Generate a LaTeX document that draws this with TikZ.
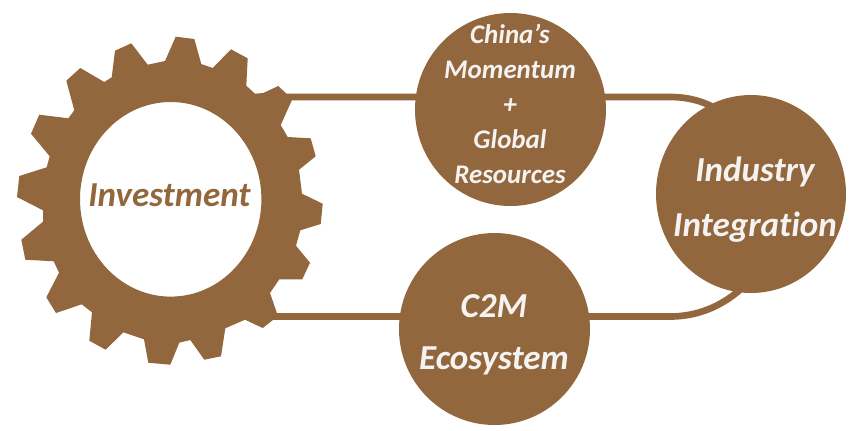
\documentclass[tikz,border=0pt]{standalone}
\usepackage{fontspec}
\usetikzlibrary{shapes.geometric}
\setmainfont[Ligatures=NoCommon]{Carlito}
\definecolor{brownc}{HTML}{92673E}
\definecolor{offw}{HTML}{F5F3F1}
\newcommand{\bigtxt}{\fontsize{26.3}{26.3}\selectfont\bfseries\itshape}
\newcommand{\smalltxt}{\fontsize{20.2}{20.2}\selectfont\bfseries\itshape}
\tikzset{
 x=0.75pt,y=-0.75pt,
 disc/.style={ellipse,fill=brownc,inner sep=0pt,minimum width=#1},
 link/.style={draw=brownc,line width=5pt},
 lab/.style={text=offw,align=center,inner sep=0pt,anchor=base},
}
\begin{document}
\begin{tikzpicture}
\useasboundingbox (0,0) rectangle (856,430);
% connectors
\coordinate (gt) at (283,97);
\coordinate (gb) at (272,316.5);
\coordinate (tb) at (670,97);
\coordinate (bb) at (670,316.5);
\coordinate (rt) at (722,112);
\coordinate (rb) at (742,288);
\draw[link] (gt) -- (tb) .. controls (690,97) and (706,102) .. (rt);
\draw[link] (gb) -- (bb) .. controls (695,316.5) and (720,308) .. (rb);
% gear
\fill[brownc,even odd rule]
 plot coordinates {(175.7,36.7)(194.3,39)(201.3,64)(212.7,68)(231,49.3)(247.7,58.3)(246.3,85.7)(255,93.7)(263.3,93)(278.3,86)(286,93.3)(292,100)(280.7,125)(287.7,137)(310.7,138.3)(315.7,156.3)(299,169.7)(302,193.7)(322.7,203.7)(320.7,224)(300.3,230.3)(296,245.7)(310,262.7)(302.3,279.3)(279.3,279.3)(270,293)(277,313.3)(273.3,319.7)(262.7,328)(245,319.7)(225.3,328.3)(221,356.3)(204.3,359.7)(190.3,340)(179.3,342.7)(170.3,364.7)(148.3,362.7)(144,339.3)(123.3,332.3)(105.7,349.7)(89.3,340.7)(92,312.3)(81.7,304.3)(56,313)(46.3,297.3)(59,272.7)(53.7,261.3)(25.3,259.7)(21.3,239.7)(43,221.7)(43,210.3)(17,197)(19.3,176)(46.7,167.3)(49.7,156.3)(31,133.7)(39.3,114.7)(68.3,118.3)(74.3,110.3)(66.3,80.7)(80.3,68)(104.3,82)(111.7,77.3)(115,50.7)(131.3,43.3)(147.7,64.7)(165,61)}
 -- cycle
 (170.7,199.3) ellipse [x radius=90.7,y radius=97.3];
\node[lab,text=brownc,font=\bigtxt] (inv) at (169.5,206.5) {Investment};
% discs
\node[disc=143.25pt,minimum height=144.75pt] (china) at (510.5,109.5) {};
\node[disc=143.25pt,minimum height=144pt] (c2m) at (494.5,329) {};
\node[disc=142.5pt,minimum height=148.5pt] (ind) at (751,194) {};
% labels
\node[lab,font=\smalltxt] (l1) at (510,43.5) {China’s};
\node[lab,font=\smalltxt] (l2) at (510,78) {Momentum};
\node[lab,font=\smalltxt] (l3) at (510,113) {+};
\node[lab,font=\smalltxt] (l4) at (510,148.5) {Global};
\node[lab,font=\smalltxt] (l5) at (510,183) {Resources};
\node[lab,font=\bigtxt] (l6) at (494,317) {C2M};
\node[lab,font=\bigtxt] (l7) at (494,369) {Ecosystem};
\node[lab,font=\bigtxt] (l8) at (755,181) {Industry};
\node[lab,font=\bigtxt] (l9) at (755,236) {Integration};
\end{tikzpicture}
\end{document}
